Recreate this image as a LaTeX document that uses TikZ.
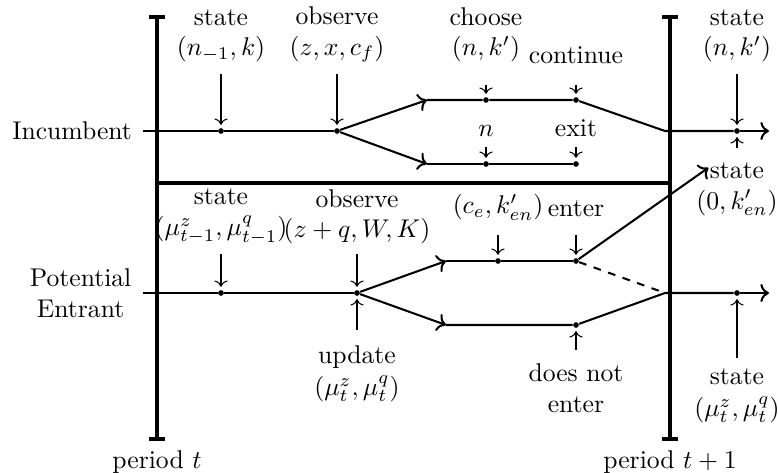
\documentclass[tikz,border=0pt]{standalone}
\usepackage{amsmath, amssymb}
\usepackage{tikz}
\usetikzlibrary{
  arrows.meta,%
  calc,%
  positioning
}
\tikzset{font=\normalsize}
\tikzset{dot/.style={circle, fill, inner sep=0pt, minimum size=2.2pt}}
\tikzset{track/.style={thick}, periodbar/.style={ultra thick}}
\tikzset{lbl/.style={align=center, inner sep=2pt}}
\tikzset{cue/.style={->, thin, shorten >=1.1pt, shorten <=#1}, cue/.default=2pt}

\begin{document}
\begin{tikzpicture}[x=0.39pt, y=-0.39pt]
  \useasboundingbox (0,0) rectangle (778,473); %
  % periods
  \coordinate (p0top) at (157,15); %
  \coordinate (p0bot) at (157,441); %
  \coordinate (p1top) at (670,15); %
  \coordinate (p1bot) at (670,441); %
  \coordinate (p0mid) at (157,183); %
  \coordinate (p1mid) at (670,183); %
  \draw[periodbar, {Bar[width=6pt]-Bar[width=6pt]}] (p0top) -- (p0bot); %
  \draw[periodbar, {Bar[width=6pt]-Bar[width=6pt]}] (p1top) -- (p1bot); %
  \draw[periodbar] (p0mid) -- (p1mid); %
  \node (per0) at (157,462) {period $t$}; %
  \node (per1) at (670,462) {period $t+1$}; %
  \node[anchor=east] (inc) at (141,131) {Incumbent}; %
  \node[lbl, anchor=east] (pent) at (137,293) {Potential\\Entrant}; %

  % incumbent
  \coordinate (ia) at (143,131); %
  \node[dot] (ist) at (221,131) {}; %
  \node[dot] (iob) at (337,131) {}; %
  \coordinate (iup) at (427,100); %
  \coordinate (ilo) at (427,164); %
  \node[dot] (ich) at (486,100) {}; %
  \node[dot] (ico) at (576,100) {}; %
  \node[dot] (inn) at (486,164) {}; %
  \node[dot] (iex) at (576,164) {}; %
  \coordinate (ijn) at (665,131); %
  \node[dot] (inx) at (737,131) {}; %
  \coordinate (ib) at (769,131); %
  \draw[track] (ia) -- (ist) -- (iob); %
  \draw[track, ->] (iob) -- (iup); %
  \draw[track, ->] (iob) -- (ilo); %
  \draw[track] (iup) -- (ich) -- (ico) -- (ijn) -- (inx); %
  \draw[track, ->] (inx) -- (ib); %
  \draw[track] (ilo) -- (inn) -- (iex); %

  \node[lbl, anchor=south] (lst) at (221,68) {state\\$(n_{-1},k)$}; %
  \node[lbl, anchor=south] (lob) at (337,68) {observe\\$(z,x,c_f)$}; %
  \node[lbl, anchor=south] (lch) at (486,68) {choose\\$(n,k')$}; %
  \node[lbl, anchor=south] (lco) at (576,69) {continue}; %
  \node[lbl, anchor=south] (lnn) at (486,142) {$n$}; %
  \node[lbl, anchor=south] (lex) at (576,142) {exit}; %
  \node[lbl, anchor=south] (lnx) at (737,68) {state\\$(n,k')$}; %
  \node[lbl, anchor=north] (lnew) at (737,157) {state}; %
  \node[lbl, below=0pt of lnew] (lnewv) {$(0,k'_{en})$}; %
  \draw[cue=2.3pt] (lst) -- (ist); %
  \draw[cue=2.3pt] (lob) -- (iob); %
  \draw[cue=6.5pt] (lch) -- (ich); %
  \draw[cue=6.1pt] (lco) -- (ico); %
  \draw[cue] (lnn) -- (inn); %
  \draw[cue] (lex) -- (iex); %
  \draw[cue=2.3pt] (lnx) -- (inx); %
  \draw[cue=3.5pt] (lnew) -- (inx); %

  % potential entrant
  \coordinate (ea) at (143,293); %
  \node[dot] (est) at (221,293) {}; %
  \node[dot] (eob) at (357,293) {}; %
  \coordinate (eup) at (446,261); %
  \coordinate (elo) at (446,325); %
  \node[dot] (ece) at (498,261) {}; %
  \node[dot] (een) at (576,261) {}; %
  \node[dot] (edn) at (576,325) {}; %
  \coordinate (ejn) at (665,293); %
  \node[dot] (enx) at (737,293) {}; %
  \coordinate (eb) at (769,293); %
  \draw[track] (ea) -- (est) -- (eob); %
  \draw[track, ->] (eob) -- (eup); %
  \draw[track, ->] (eob) -- (elo); %
  \draw[track] (eup) -- (ece) -- (een); %
  \draw[track] (elo) -- (edn) -- (ejn) -- (enx); %
  \draw[track, ->] (enx) -- (eb); %
  \draw[track, dashed] (een) -- (ejn); %
  \draw[track, ->, shorten >=-2pt] (een) -- (lnew.west); %

  \node[lbl, anchor=south] (lest) at (221,250) {state\\$(\mu^z_{t-1},\mu^q_{t-1})$}; %
  \node[lbl, anchor=south] (leob) at (357,250) {observe\\$(z+q,W,K)$}; %
  \node[lbl, anchor=south] (lece) at (498,226) {$(c_e,k'_{en})$}; %
  \node[lbl, anchor=south] (leen) at (576,222) {enter}; %
  \node[lbl, anchor=north] (lupd) at (357,340) {update\\[0.5pt]$(\mu^z_t,\mu^q_t)$}; %
  \node[lbl, anchor=north] (ledn) at (576,358) {does not\\enter}; %
  \node[lbl, anchor=north] (lenx) at (737,363) {state\\[0.5pt]$(\mu^z_t,\mu^q_t)$}; %
  \draw[cue=1.6pt] (lest) -- (est); %
  \draw[cue=1.6pt] (leob) -- (eob); %
  \draw[cue=3.5pt] (lece) -- (ece); %
  \draw[cue=5pt] (leen) -- (een); %
  \draw[cue=3.9pt] (lupd) -- (eob); %
  \draw[cue=3.1pt] (ledn) -- (edn); %
  \draw[cue] (lenx) -- (enx); %
\end{tikzpicture}
\end{document}
